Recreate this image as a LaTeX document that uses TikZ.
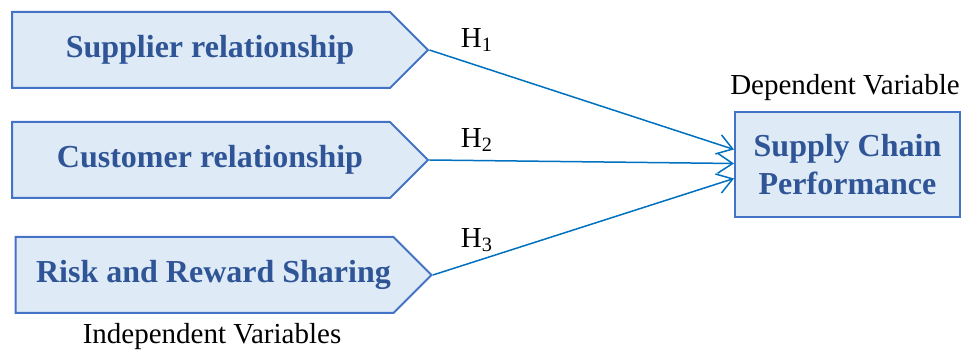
\documentclass[tikz,border=0pt]{standalone}
\usepackage{fontspec}
\setmainfont{Liberation Serif}[Ligatures=TeX]
\usetikzlibrary{shapes.symbols,arrows.meta,calc}

\definecolor{boxline}{HTML}{4472C4}
\definecolor{boxfill}{HTML}{DEEAF6}
\definecolor{boxtext}{HTML}{2F5597}
\definecolor{arrowblue}{HTML}{0070C0}

\tikzset{
    varbox/.style={signal, signal to=east, signal pointer angle=90, draw=boxline, line width=1pt,
        fill=boxfill, text=boxtext, font=\rmfamily\fontsize{16}{19}\selectfont\bfseries,
        minimum width=208pt, minimum height=38pt, inner sep=0pt,
        execute at begin node=\hspace*{9pt}},
    depbox/.style={rectangle, draw=boxline, line width=1pt, fill=boxfill, text=boxtext,
        font=\rmfamily\fontsize{16}{19}\selectfont\bfseries, align=center,
        minimum width=112.5pt, minimum height=52.5pt, inner sep=0pt},
    hyp/.style={draw=arrowblue, line width=0.75pt, -{Straight Barb[length=7.5pt,width=10pt]}},
    plain/.style={font=\rmfamily\fontsize{14.5}{17}\selectfont}
}

\begin{document}
\begin{tikzpicture}[x=0.5pt, y=-0.5pt]
    \useasboundingbox (0,0) rectangle (963,351);

    % Independent variables
    \node[varbox] (sup) at (201, 50) {Supplier relationship};
    \node[varbox] (cus) at (201, 160) {Customer relationship};
    \node[varbox] (rrs) at (204.5, 275) {Risk and Reward Sharing};
    \node[plain] (indep) at (212, 337) {Independent Variables};

    % Dependent variable
    \node[depbox] (scp) at (847.5, 164.5) {Supply Chain\\Performance};
    \node[plain] (dep) at (845, 88) {Dependent Variable};

    % Hypotheses
    \draw[hyp] (sup.east) -- ($(scp.west)+(0,-15)$);
    \draw[hyp] (cus.east) -- ($(scp.west)+(0,-1)$);
    \draw[hyp] (rrs.east) -- ($(scp.west)+(0,14)$);

    \node[plain] (h1) at (477, 40) {H\textsubscript{1}};
    \node[plain] (h2) at (477, 140) {H\textsubscript{2}};
    \node[plain] (h3) at (477, 240) {H\textsubscript{3}};
\end{tikzpicture}
\end{document}
